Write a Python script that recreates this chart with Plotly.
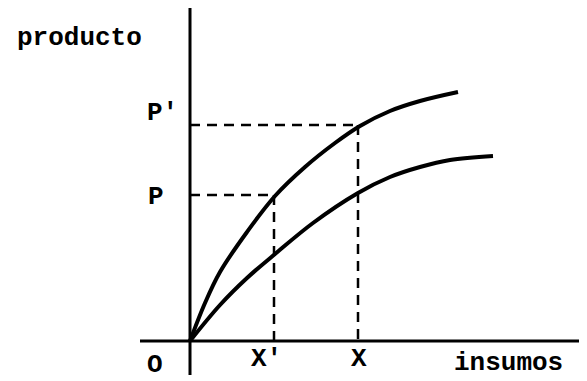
import plotly.graph_objects as go

# curva superior (x, producto)
upper_x = [0, 15, 30, 57, 85, 115, 145, 170, 200, 230, 268]
upper_y = [0, 38, 69, 109, 145, 174, 198, 215, 230, 240, 249]

# curva inferior
lower_x = [0, 30, 57, 85, 123, 168, 200, 230, 260, 303]
lower_y = [0, 36, 63, 87, 118, 148, 164, 174, 181, 185]

# niveles marcados
x_prime = 84
x_val = 168
p_val = 146
p_prime = 216

# ejes dibujados a mano
h_axis_x = [-50, 397]
v_axis_y = [-34, 333]

font = dict(family="Liberation Mono, Courier New, monospace", size=26, color="black")

fig = go.Figure()

fig.add_trace(go.Scatter(x=h_axis_x, y=[0, 0], mode="lines",
                         line=dict(color="black", width=3)))
fig.add_trace(go.Scatter(x=[0, 0], y=v_axis_y, mode="lines",
                         line=dict(color="black", width=3)))

fig.add_trace(go.Scatter(x=upper_x, y=upper_y, mode="lines",
                         line=dict(color="black", width=4, shape="spline")))
fig.add_trace(go.Scatter(x=lower_x, y=lower_y, mode="lines",
                         line=dict(color="black", width=4, shape="spline")))

dash = dict(color="black", width=2.5, dash="10px,7px")
fig.add_trace(go.Scatter(x=[0, x_val], y=[p_prime, p_prime], mode="lines", line=dash))
fig.add_trace(go.Scatter(x=[0, x_prime], y=[p_val, p_val], mode="lines", line=dash))
fig.add_trace(go.Scatter(x=[x_prime, x_prime], y=[p_val, 0], mode="lines", line=dash))
fig.add_trace(go.Scatter(x=[x_val, x_val], y=[p_prime, 0], mode="lines", line=dash))

labels = [
    ("producto", -111, 303),
    ("P'", -28, 228),
    ("P", -34, 144),
    ("O", -35, -24),
    ("X'", 76, -18),
    ("X", 169, -18),
    ("insumos", 318, -22),
]
for txt, lx, ly in labels:
    fig.add_annotation(x=lx, y=ly, text="<b>" + txt + "</b>", showarrow=False,
                       xref="x", yref="y", font=font)

# la pagina tiene 8px de margen, asi que el grafico empieza en (8, 8)
fig.update_xaxes(range=[-182, 397], visible=False)
fig.update_yaxes(range=[-40, 333], visible=False)
fig.update_layout(width=579, height=373, margin=dict(l=0, r=0, t=0, b=0),
                  showlegend=False, plot_bgcolor="white", paper_bgcolor="white")

fig.write_html("out.html")
